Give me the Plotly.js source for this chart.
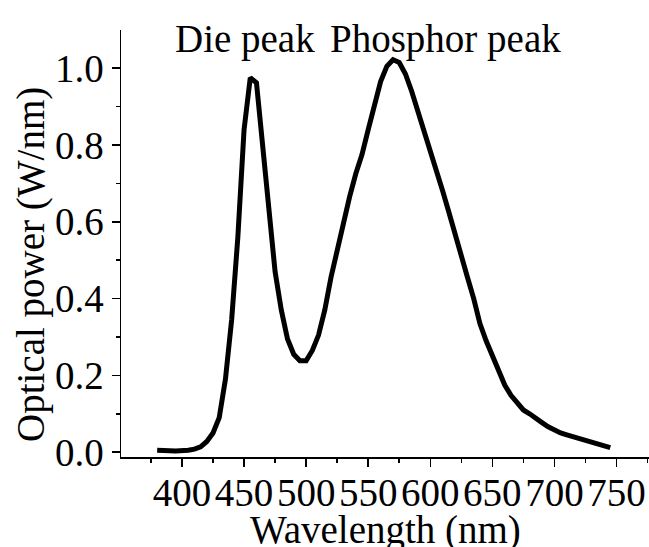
<!DOCTYPE html>
<html>
<head>
<meta charset="utf-8">
<script src="https://cdn.plot.ly/plotly-3.0.1.min.js"></script>
<style>
  html, body { margin: 0; padding: 0; background: #ffffff; }
  #chart { width: 649px; height: 547px; }
</style>
</head>
<body>
<div id="chart"></div>
<script>
// Wavelength (nm)
const wavelength = [380, 385, 390, 395, 400, 405, 410, 415, 420, 425,
  430, 435, 440, 445, 450, 455, 460, 465, 470, 475,
  480, 485, 490, 495, 500, 505, 510, 515, 520, 525,
  530, 535, 540, 545, 550, 555, 560, 565, 570, 575,
  580, 585, 590, 595, 600, 605, 610, 615, 620, 625,
  630, 635, 640, 645, 650, 655, 660, 665, 670, 675,
  680, 685, 690, 695, 700, 705, 710, 715, 720, 725,
  730, 735, 740, 745];
// Optical power (W/nm)
const power = [0.005, 0.006, 0.004, 0.003, 0.003, 0.005, 0.008, 0.014, 0.028, 0.05,
  0.09, 0.19, 0.345, 0.56, 0.84, 0.975, 0.962, 0.80, 0.635, 0.47,
  0.37, 0.295, 0.255, 0.238, 0.238, 0.265, 0.305, 0.37, 0.455, 0.53,
  0.60, 0.665, 0.725, 0.775, 0.84, 0.905, 0.965, 1.005, 1.022, 1.015,
  0.985, 0.94, 0.89, 0.84, 0.785, 0.735, 0.68, 0.625, 0.565, 0.51,
  0.455, 0.40, 0.335, 0.29, 0.25, 0.21, 0.175, 0.148, 0.128, 0.11,
  0.10, 0.09, 0.077, 0.066, 0.057, 0.05, 0.045, 0.04, 0.034, 0.029,
  0.024, 0.02, 0.016, 0.012];

const xTickVals = [400, 450, 500, 550, 600, 650, 700, 750];
const xTickText = ["400", "450", "500", "550", "600", "650", "700", "750"];
const yTickVals = [0.0, 0.2, 0.4, 0.6, 0.8, 1.0];
const yTickText = ["0.0", "0.2", "0.4", "0.6", "0.8", "1.0"];

const peakLabels = ["Die peak", "Phosphor peak"];
const xTitle = "Wavelength (nm)";
const yTitle = "Optical power (W/nm)";

const FONT = "'Liberation Serif', 'Times New Roman', Times, serif";

const trace = {
  x: wavelength,
  y: power,
  type: "scatter",
  mode: "lines",
  line: { color: "#000000", width: 5, shape: "linear" },
  hoverinfo: "skip",
  showlegend: false
};

const layout = {
  width: 649,
  height: 547,
  margin: { l: 121, r: 0, t: 30, b: 90, pad: 0 },
  paper_bgcolor: "#ffffff",
  plot_bgcolor: "#ffffff",
  font: { family: FONT, size: 39, color: "#000000" },
  xaxis: {
    range: [350.87, 776.2],
    tickmode: "array",
    tickvals: xTickVals,
    ticktext: xTickText,
    ticks: "outside",
    ticklen: 8,
    tickwidth: 1.5,
    tickcolor: "#000000",
    ticklabelstandoff: -7,
    tickfont: { family: FONT, size: 39, color: "#000000" },
    minor: { dtick: 25, tick0: 375, ticks: "outside", ticklen: 4, tickwidth: 1.5, tickcolor: "#000000", showgrid: false },
    showline: true,
    linecolor: "#000000",
    linewidth: 1.5,
    showgrid: false,
    zeroline: false,
    mirror: false
  },
  yaxis: {
    range: [-0.0125, 1.0995],
    tickmode: "array",
    tickvals: yTickVals,
    ticktext: yTickText,
    ticks: "outside",
    ticklen: 8,
    tickwidth: 1.5,
    tickcolor: "#000000",
    tickfont: { family: FONT, size: 39, color: "#000000" },
    minor: { dtick: 0.1, tick0: 0.1, ticks: "outside", ticklen: 4, tickwidth: 1.5, tickcolor: "#000000", showgrid: false },
    showline: true,
    linecolor: "#000000",
    linewidth: 1.5,
    showgrid: false,
    zeroline: false,
    mirror: false
  },
  annotations: [
    {
      text: xTitle,
      xref: "paper", yref: "paper", x: 0.5, y: -0.17,
      xanchor: "center", yanchor: "middle", showarrow: false,
      font: { family: FONT, size: 39, color: "#000000" }
    },
    {
      text: yTitle, textangle: -90,
      xref: "paper", yref: "paper", x: -0.1705, y: 0.452,
      xanchor: "center", yanchor: "middle", showarrow: false,
      font: { family: FONT, size: 39, color: "#000000" }
    },
    {
      text: peakLabels[0],
      xref: "paper", yref: "paper", x: 0.2348, y: 0.979,
      xanchor: "center", yanchor: "middle", showarrow: false,
      font: { family: FONT, size: 39, color: "#000000" }
    },
    {
      text: peakLabels[1],
      xref: "paper", yref: "paper", x: 0.6146, y: 0.979,
      xanchor: "center", yanchor: "middle", showarrow: false,
      font: { family: FONT, size: 39, color: "#000000" }
    }
  ]
};

Plotly.newPlot("chart", [trace], layout, { displayModeBar: false, staticPlot: true });
</script>
</body>
</html>
